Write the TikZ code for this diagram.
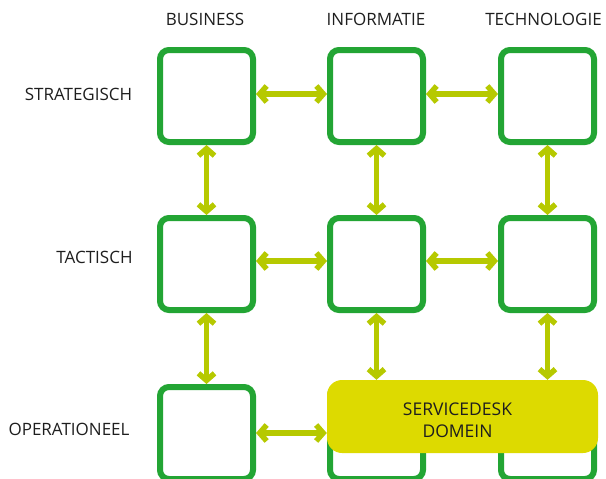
\documentclass[tikz,border=0pt]{standalone}
\usepackage{fontspec}
\setmainfont{Open Sans}
\usetikzlibrary{arrows.meta}
\definecolor{boxgreen}{RGB}{35,165,52}
\definecolor{arrowolive}{RGB}{182,201,0}
\definecolor{domyellow}{RGB}{221,218,0}
\definecolor{txt}{RGB}{30,30,30}
\tikzset{
  gridcell/.style={draw=boxgreen, line width=6pt, rounded corners=9pt, minimum width=93pt, minimum height=92pt, inner sep=0pt, fill=white},
  linkarrow/.style={draw=arrowolive, line width=5.5pt, {Straight Barb[length=7pt,width=16pt]}-{Straight Barb[length=7pt,width=16pt]}},
  labeltext/.style={text=txt, font=\fontsize{17}{21}\selectfont, inner sep=0pt},
  sdbox/.style={fill=domyellow, rounded corners=15pt, minimum width=271pt, minimum height=73pt, inner sep=0pt},
  sdtext/.style={align=center, text=txt, inner sep=0pt, font=\fontsize{17.5}{21.5}\selectfont}
}
\begin{document}
\begin{tikzpicture}[x=1pt,y=-1pt]
\useasboundingbox (0,0) rectangle (606,479);
% headers
\node[labeltext] (hb) at (205,19) {BUSINESS};
\node[labeltext] (hi) at (376,19) {INFORMATIE};
\node[labeltext] (ht) at (543.5,19) {TECHNOLOGIE};
% row labels
\node[labeltext] (rs) at (78.5,94.5) {STRATEGISCH};
\node[labeltext] (rt) at (94.5,257.5) {TACTISCH};
\node[labeltext] (ro) at (69,429) {OPERATIONEEL};
% cells
\node[gridcell] (a1) at (206.5,96) {};
\node[gridcell] (b1) at (376.5,96) {};
\node[gridcell] (c1) at (547.5,96) {};
\node[gridcell] (a2) at (206.5,264) {};
\node[gridcell] (b2) at (376.5,264) {};
\node[gridcell] (c2) at (547.5,264) {};
\node[gridcell] (a3) at (206.5,433) {};
\node[gridcell] (b3) at (376.5,433) {};
\node[gridcell] (c3) at (547.5,433) {};
% servicedesk domain
\node[sdbox] (sd) at (462.5,416.5) {};
\node[sdtext] (sdt) at ([shift={(-5,3.5)}]sd.center) {SERVICEDESK\\DOMEIN};
% horizontal arrows
\draw[linkarrow] ([yshift=2pt]a1.east) -- ([yshift=2pt]b1.west);
\draw[linkarrow] ([yshift=2pt]b1.east) -- ([yshift=2pt]c1.west);
\draw[linkarrow] ([yshift=3pt]a2.east) -- ([yshift=3pt]b2.west);
\draw[linkarrow] ([yshift=3pt]b2.east) -- ([yshift=3pt]c2.west);
\draw[linkarrow] (a3.east) -- (sd.west |- a3.east);
% vertical arrows
\draw[linkarrow] (a1.south) -- (a2.north);
\draw[linkarrow] (b1.south) -- (b2.north);
\draw[linkarrow] (c1.south) -- (c2.north);
\draw[linkarrow] (a2.south) -- (a3.north);
\draw[linkarrow] (b2.south) -- (b2.south |- sd.north);
\draw[linkarrow] (c2.south) -- (c2.south |- sd.north);
\end{tikzpicture}
\end{document}
